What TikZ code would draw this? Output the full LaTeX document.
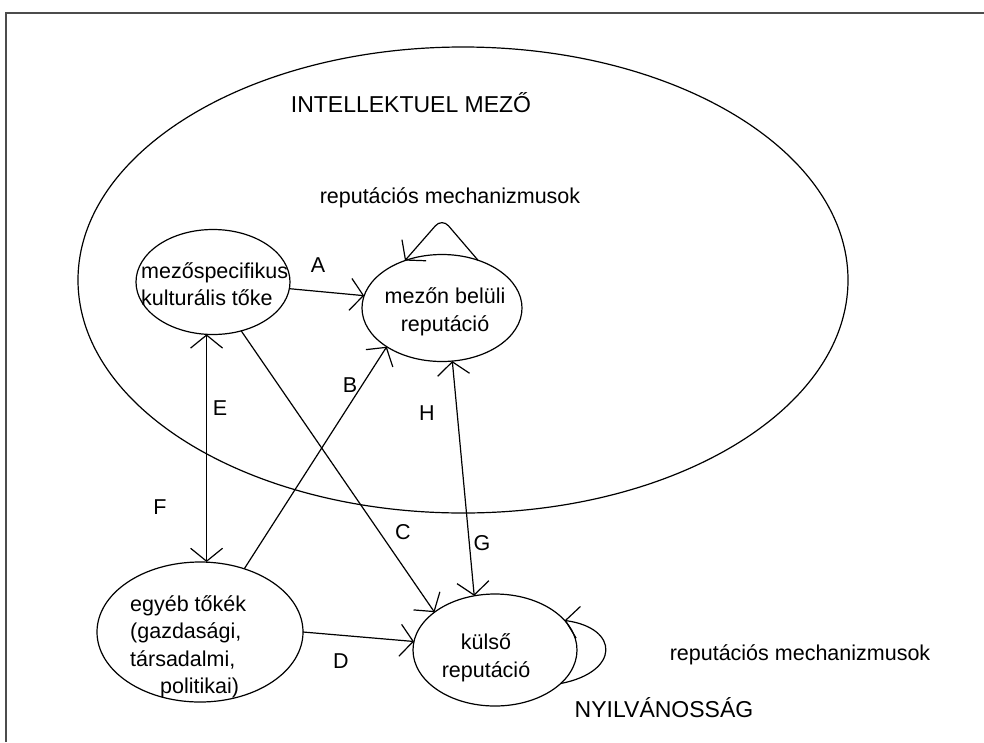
\documentclass[tikz,border=0pt]{standalone}
\usepackage{fontspec}
\setmainfont{Liberation Sans}
\usetikzlibrary{shapes.geometric,arrows.meta}
\begin{document}
\begin{tikzpicture}[x=1pt,y=-1pt,
  every node/.style={font=\fontsize{21.5}{27.5}\selectfont},
  ell/.style={draw, ellipse, inner sep=0pt, outer sep=0pt, line width=1.2pt},
  lbl/.style={inner sep=0pt},
  con/.style={line width=1.2pt},
  tip/.style={-{Straight Barb[length=13pt,width=32pt]}},
  dtip/.style={{Straight Barb[length=13pt,width=32pt]}-{Straight Barb[length=13pt,width=32pt]}},
]
\useasboundingbox (0,0) rectangle (984,742);
% frame
\coordinate (fa) at (6,742);
\coordinate (fb) at (6,13);
\coordinate (fc) at (984,13);
\draw[line width=2pt, black!70] (fa) -- (fb) -- (fc);

% field
\node[ell, minimum width=770pt, minimum height=466pt] (field) at (463,280) {};
\node[lbl] (fieldlbl) at (411,103) {\fontsize{23}{27}\selectfont INTELLEKTUEL MEZŐ};

% nodes
\node[ell, minimum width=154pt, minimum height=105pt] (k1) at (213,282) {};
\node[lbl, align=left, anchor=west] (k1t) at (141,284) {mezőspecifikus\\kulturális tőke};

\node[ell, minimum width=160pt, minimum height=107pt] (r1) at (442,308) {};
\node[lbl, align=center] (r1t) at (445,312) {mezőn belüli\\reputáció};

\node[ell, minimum width=206pt, minimum height=140pt] (k2) at (200,632) {};
\node[lbl, align=left, anchor=west] (k2t) at (130,647) {egyéb tőkék\\(gazdasági,\\társadalmi,\\\hspace*{30pt}politikai)};

\node[ell, minimum width=164pt, minimum height=112pt] (r2) at (495,650) {};
\node[lbl, align=center] (r2t) at (486,658) {külső\\reputáció};

% self loops
\draw[con, tip, rounded corners=10pt] (r1.53) -- ++(-36,-42) -- (r1.128);
\draw[con, tip] (r2.-27) .. controls (620,672) and (620,628) .. (r2.23);

% connectors
\draw[con, tip] (k1.-5) -- (r1.171);
\draw[con, tip] (k2.55) -- (r1.215);
\draw[con, tip] (k1.-60) -- (r2.148);
\draw[con, tip] (k2.0) -- (r2.174);
\draw[con, dtip] (k1.-97) -- (k1.-97 |- k2.north);
\draw[con, dtip] (r1.-79) -- (r2.111);

% labels
\node[lbl] (la) at (318,265) {A};
\node[lbl] (lb) at (350,385) {B};
\node[lbl] (lc) at (403,532) {C};
\node[lbl] (ld) at (341,661) {D};
\node[lbl] (le) at (220,408) {E};
\node[lbl] (lf) at (160,507) {F};
\node[lbl] (lg) at (482,543) {G};
\node[lbl] (lh) at (427,413) {H};

\node[lbl] (mech1) at (450,198) {reputációs mechanizmusok};
\node[lbl] (mech2) at (800,655) {reputációs mechanizmusok};
\node[lbl] (nyilv) at (664,708) {\fontsize{23}{27}\selectfont NYILVÁNOSSÁG};
\end{tikzpicture}
\end{document}
